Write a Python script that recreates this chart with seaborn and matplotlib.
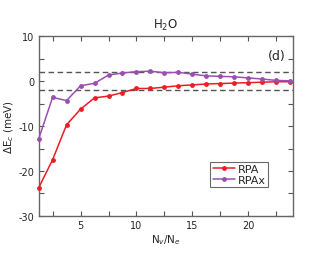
import numpy as np
import pandas as pd
import matplotlib
matplotlib.use("Agg")
import matplotlib.pyplot as plt
from matplotlib.ticker import MultipleLocator
import seaborn as sns

# N_v/N_e values
ratio = [1.25, 2.5, 3.75, 5.0, 6.25, 7.5, 8.75, 10.0, 11.25, 12.5,
         13.75, 15.0, 16.25, 17.5, 18.75, 20.0, 21.25, 22.5, 23.75]
# Delta E_c (meV)
rpa = [-23.8, -17.5, -9.7, -6.2, -3.7, -3.3, -2.5, -1.6, -1.6, -1.3,
       -1.0, -0.8, -0.6, -0.5, -0.4, -0.3, -0.2, -0.1, -0.1]
rpax = [-12.9, -3.6, -4.3, -1.0, -0.45, 1.4, 1.85, 2.15, 2.25, 1.9,
        2.0, 1.6, 1.2, 1.1, 1.0, 0.75, 0.5, 0.2, 0.1]
band = [-2, 2]

df = pd.DataFrame({
    "x": ratio + ratio,
    "y": rpa + rpax,
    "method": ["RPA"] * len(ratio) + ["RPAx"] * len(ratio),
})

sns.set_style("ticks")
plt.rcParams['font.family'] = ['DejaVu Sans']
plt.rcParams['axes.unicode_minus'] = False

fig = plt.figure(figsize=(3.3, 2.55), dpi=100)
ax = fig.add_axes([0.117, 0.15, 0.771, 0.703])

for b in band:
    ax.axhline(b, color="#555555", ls=(0, (4, 2.5)), lw=1.0, zorder=1)

sns.lineplot(data=df, x="x", y="y", hue="method",
             palette={"RPA": "#ee1c24", "RPAx": "#9b4fb0"},
             marker="o", markersize=3.5, markeredgewidth=0, lw=1.1,
             ax=ax, zorder=3, clip_on=False)

ax.set_xlim(1.25, 24)
ax.set_ylim(-30, 10)
ax.xaxis.set_major_locator(MultipleLocator(5))
ax.xaxis.set_minor_locator(MultipleLocator(2.5))
ax.yaxis.set_major_locator(MultipleLocator(10))
ax.yaxis.set_minor_locator(MultipleLocator(5))
ax.tick_params(which="both", direction="in", top=True, right=True,
               length=3.5, width=0.8, color="#555555", labelsize=7, pad=3)
for s in ax.spines.values():
    s.set_color("#666666")
    s.set_linewidth(1.0)

ax.set_xlabel(r"N$_v$/N$_e$", fontsize=7.5, labelpad=2)
ax.set_ylabel(r"$\Delta$E$_c$ (meV)", fontsize=7.5, labelpad=2)
ax.set_title(r"H$_2$O", fontsize=8.5, pad=6)
ax.text(0.97, 0.93, "(d)", transform=ax.transAxes, ha="right", va="top", fontsize=9)

leg = ax.legend(loc="lower right", bbox_to_anchor=(0.903, 0.16), fontsize=8,
                frameon=True, fancybox=False, handlelength=2.0, borderaxespad=0,
                borderpad=0.2, labelspacing=0.05, handletextpad=0.3)
leg.get_frame().set_edgecolor("#444444")
leg.get_frame().set_linewidth(0.8)

fig.savefig("out.png", dpi=100)
